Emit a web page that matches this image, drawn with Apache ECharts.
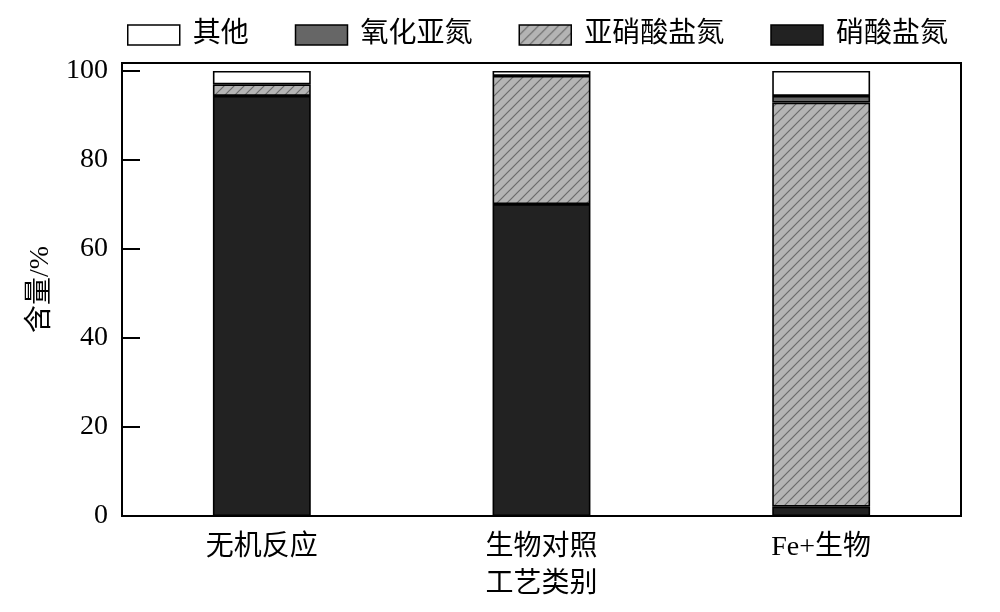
<!DOCTYPE html>
<html><head><meta charset="utf-8">
<script src="https://cdn.jsdelivr.net/npm/echarts@6/dist/echarts.min.js"></script>
<style>html,body{margin:0;padding:0;background:#fff}#c{width:1000px;height:612px}</style>
</head><body><div id="c"></div>
<script>
const categories = ['无机反应', '生物对照', 'Fe+生物'];
const nitrate = [94.4, 70.1, 2.1];
const nitrite = [2.6, 28.8, 90.8];
const n2o = [0, 0, 1.5];
const other = [3.0, 1.1, 5.6];
const yTicks = [0, 20, 40, 60, 80, 100];

function hatch() {
  const c = document.createElement('canvas');
  c.width = 10; c.height = 10;
  const g = c.getContext('2d');
  g.fillStyle = '#b4b4b4'; g.fillRect(0, 0, 10, 10);
  g.strokeStyle = '#6a6a6a'; g.lineWidth = 1.2;
  g.beginPath();
  g.moveTo(-1, 11); g.lineTo(11, -1);
  g.moveTo(-1, 1); g.lineTo(1, -1);
  g.moveTo(9, 11); g.lineTo(11, 9);
  g.stroke();
  return { image: c, repeat: 'repeat' };
}
const hatchFill = hatch();
const cjk = '"Liberation Serif", "Noto Sans CJK SC", serif';
const border = { borderColor: '#000', borderWidth: 1.6 };
const chart = echarts.init(document.getElementById('c'), null, { renderer: 'canvas' });
function s(name, data, color) {
  return { name, type: 'bar', stack: 'a', data: data.map(v => v === 0 ? '-' : v), barWidth: '35%',
    itemStyle: Object.assign({ color }, border), emphasis: { disabled: true } };
}
chart.setOption({
  animation: false,
  backgroundColor: '#fff',
  legend: {
    top: 16, left: 122, icon: 'rect',
    itemWidth: 52, itemHeight: 20, itemGap: 46,
    data: ['其他', '氧化亚氮', '亚硝酸盐氮', '硝酸盐氮'],
    textStyle: { fontFamily: cjk, fontSize: 28, color: '#000', padding: [0, 0, 0, 8] },
    itemStyle: { borderColor: '#000', borderWidth: 1.5 }
  },
  grid: { left: 122, right: 39, top: 63, bottom: 96, show: true, borderColor: '#000', borderWidth: 2 },
  xAxis: {
    type: 'category', data: categories,
    name: '工艺类别', nameLocation: 'middle', nameGap: 55,
    nameTextStyle: { fontFamily: cjk, fontSize: 28, color: '#000' },
    axisLine: { lineStyle: { color: '#000', width: 2 } },
    axisTick: { show: false },
    axisLabel: { fontFamily: cjk, fontSize: 28, color: '#000', margin: 18 }
  },
  yAxis: {
    type: 'value', min: 0, max: 101.8, interval: 20,
    name: '含量/%', nameLocation: 'middle', nameGap: 56,
    nameTextStyle: { fontFamily: cjk, fontSize: 28, color: '#000' },
    axisLine: { show: true, lineStyle: { color: '#000', width: 2 } },
    axisTick: { show: true, inside: true, length: 18, lineStyle: { color: '#000', width: 2 } },
    splitLine: { show: false },
    axisLabel: { fontFamily: cjk, fontSize: 28, color: '#000', margin: 14,
      formatter: v => yTicks.indexOf(v) >= 0 ? String(v) : '' }
  },
  series: [
    s('硝酸盐氮', nitrate, '#222222'),
    s('亚硝酸盐氮', nitrite, hatchFill),
    s('氧化亚氮', n2o, '#666666'),
    s('其他', other, '#ffffff')
  ]
});
</script></body></html>
